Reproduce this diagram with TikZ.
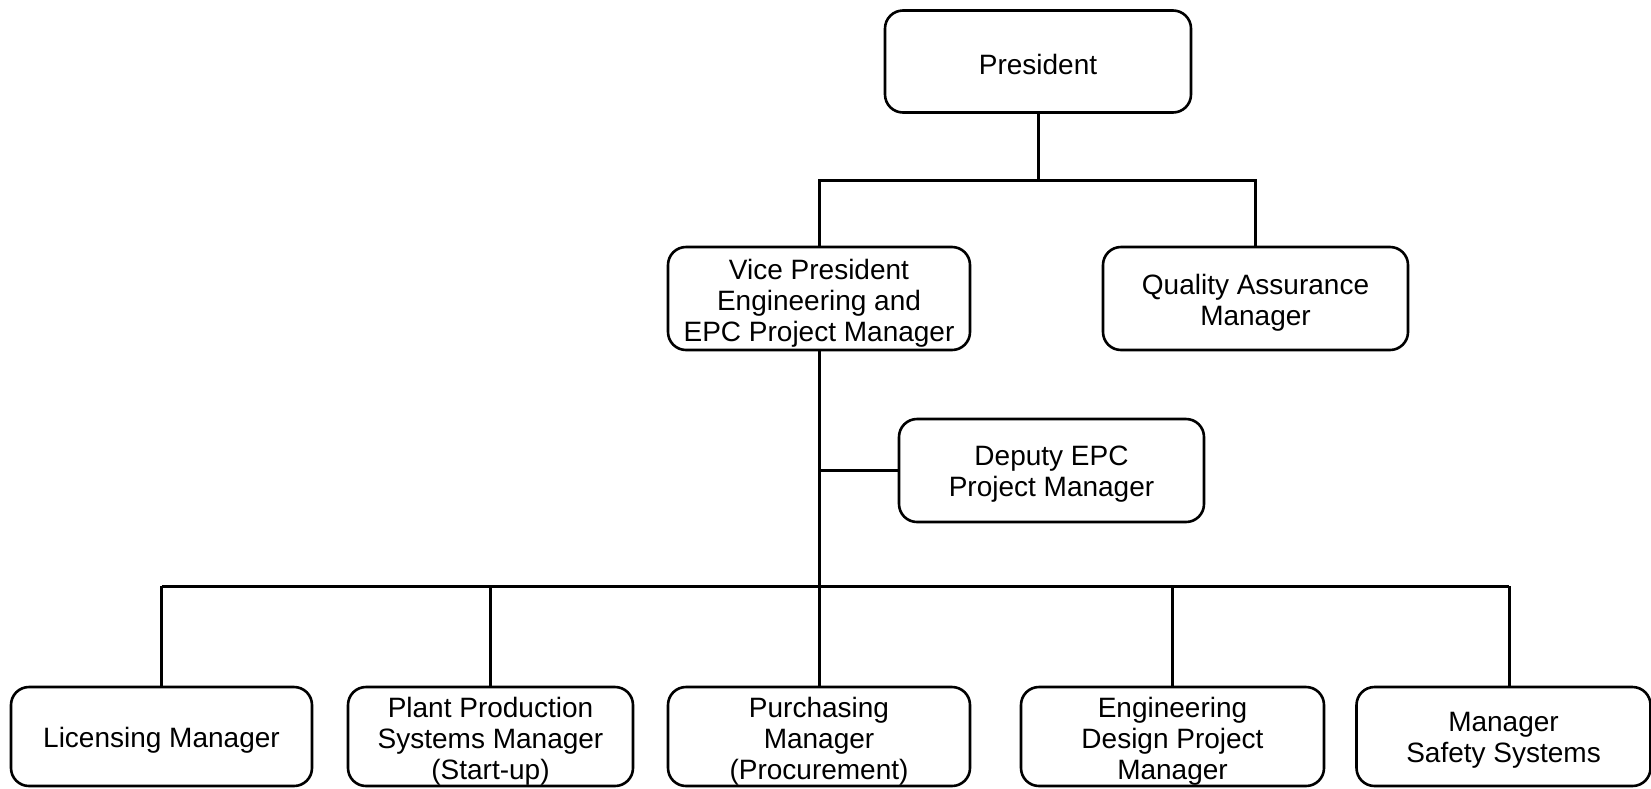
\documentclass[tikz,border=0pt]{standalone}
\usepackage{fontspec}
\setmainfont{Liberation Sans}
\begin{document}
\begin{tikzpicture}[x=1pt,y=-1pt,
  box/.style={draw=black,line width=2.6pt,rounded corners=18pt,
    inner sep=0pt,outer sep=0pt},
  txt/.style={align=center,inner sep=0pt,font=\fontsize{28}{31}\selectfont},
  wire/.style={draw=black,line width=3pt}]
\useasboundingbox (0,0) rectangle (1651,788);
% boxes
\node[box,minimum width=306pt,minimum height=102pt] (pres) at (1038,61.5) {};
\node[box,minimum width=302pt,minimum height=103pt] (vp) at (819,298.5) {};
\node[box,minimum width=305pt,minimum height=103pt] (qa) at (1255.5,298.5) {};
\node[box,minimum width=305pt,minimum height=103pt] (dep) at (1051.5,470.5) {};
\node[box,minimum width=301pt,minimum height=99pt] (lic) at (161.5,736.5) {};
\node[box,minimum width=285pt,minimum height=99pt] (pps) at (490.5,736.5) {};
\node[box,minimum width=302pt,minimum height=99pt] (pur) at (819,736.5) {};
\node[box,minimum width=303pt,minimum height=99pt] (eng) at (1172.5,736.5) {};
\node[box,minimum width=294pt,minimum height=99pt] (mss) at (1503.5,736.5) {};
% texts
\node[txt] (presT) at ([yshift=-3pt]pres.center) {President};
\node[txt] (vpT) at ([yshift=-5pt]vp.center) {Vice President\\Engineering and\\EPC Project Manager};
\node[txt] (qaT) at ([yshift=-4pt]qa.center) {Quality Assurance\\Manager};
\node[txt] (depT) at ([yshift=-4pt]dep.center) {Deputy EPC\\Project Manager};
\node[txt] (licT) at ([yshift=-4pt]lic.center) {Licensing Manager};
\node[txt] (ppsT) at ([yshift=-5pt]pps.center) {Plant Production\\Systems Manager\\(Start-up)};
\node[txt] (purT) at ([yshift=-5pt]pur.center) {Purchasing\\Manager\\(Procurement)};
\node[txt] (engT) at ([yshift=-5pt]eng.center) {Engineering\\Design Project\\Manager};
\node[txt] (mssT) at ([yshift=-4pt]mss.center) {Manager\\Safety Systems};
% coordinates
\coordinate (t1) at (1038,180);
\coordinate (bus) at (819,586);
\coordinate (bl) at (161.5,586);
\coordinate (m5) at (1509,586);
% connectors
\draw[wire] (pres.south) -- (t1);
\draw[wire] (vp.north) |- (t1) -| (qa.north);
\draw[wire] (vp.south) -- (bus);
\draw[wire] (vp.south |- dep.west) -- (dep.west);
\draw[wire] (bl) -- (m5);
\draw[wire] (bl) -- (lic.north);
\draw[wire] (pps.north |- bus) -- (pps.north);
\draw[wire] (bus) -- (pur.north);
\draw[wire] (eng.north |- bus) -- (eng.north);
\draw[wire] (m5) -- (m5 |- mss.north);
\end{tikzpicture}
\end{document}
